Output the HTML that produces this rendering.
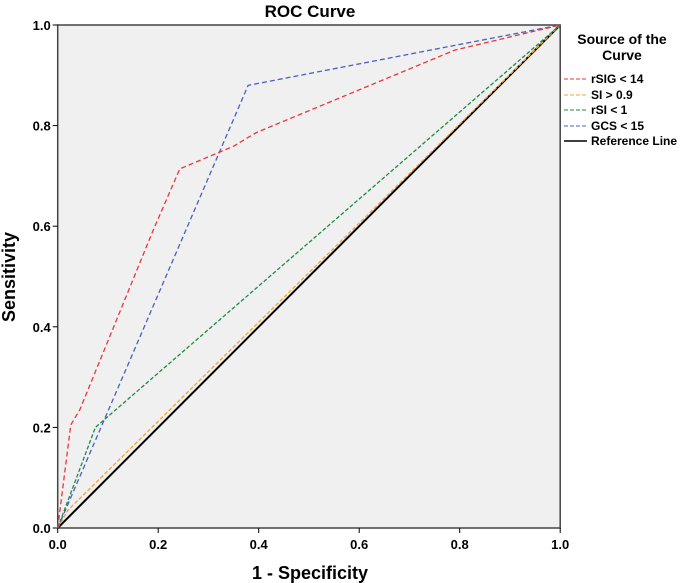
<!DOCTYPE html>
<html><head><meta charset="utf-8"><style>
body{margin:0;background:#fff;}
svg{display:block;font-family:"Liberation Sans",Arial,sans-serif;}
</style></head><body>
<svg id="chart" width="685" height="583" viewBox="0 0 685 583">
<text x="310" y="17" text-anchor="middle" font-size="17" font-weight="bold">ROC Curve</text>
<rect x="57.7" y="25" width="502.5" height="503" fill="#f0f0f0" stroke="#444" stroke-width="1.5"/>
<g id="axes"></g>
<g id="series"></g>
<text x="310" y="579" text-anchor="middle" font-size="18" font-weight="bold">1 - Specificity</text>
<text transform="translate(15,277) rotate(-90)" text-anchor="middle" font-size="18" font-weight="bold">Sensitivity</text>
<g font-size="12" font-weight="bold">
<text x="622" y="44" text-anchor="middle" font-size="14">Source of the</text>
<text x="622" y="60" text-anchor="middle" font-size="14">Curve</text>
<g><line x1="564" y1="79" x2="587" y2="79" stroke="#e8363b" stroke-dasharray="4,2"/><text x="591" y="83">rSIG &lt; 14</text></g>
<g><line x1="564" y1="95" x2="587" y2="95" stroke="#f5a22e" stroke-dasharray="4,2"/><text x="591" y="99">SI &gt; 0.9</text></g>
<g><line x1="564" y1="110" x2="587" y2="110" stroke="#1e8a47" stroke-dasharray="4,2"/><text x="591" y="114">rSI &lt; 1</text></g>
<g><line x1="564" y1="126" x2="587" y2="126" stroke="#4a5fc0" stroke-dasharray="4,2"/><text x="591" y="130">GCS &lt; 15</text></g>
<g><line x1="564" y1="141" x2="587" y2="141" stroke="#000" stroke-width="1.5"/><text x="591" y="145">Reference Line</text></g>
</g>
</svg>
<script>
const xTicks=[0,0.2,0.4,0.6,0.8,1.0];
const yTicks=[0,0.2,0.4,0.6,0.8,1.0];
const rsigX=[0,0.026,0.044,0.19,0.243,0.35,0.395,0.79,1];
const rsigY=[0,0.205,0.235,0.592,0.714,0.759,0.786,0.95,1];
const siX=[0,0.02,1];
const siY=[0,0.035,1];
const rsiX=[0,0.075,1];
const rsiY=[0,0.2,1];
const gcsX=[0,0.379,1];
const gcsY=[0,0.88,1];
const refX=[0,1];
const refY=[0,1];
const L=57.7,T=25,W=502.5,H=503;
const sx=v=>L+v*W, sy=v=>T+H-v*H;
const NS='http://www.w3.org/2000/svg';
const axes=document.getElementById('axes');
xTicks.forEach(t=>{
 const l=document.createElementNS(NS,'line');
 l.setAttribute('x1',sx(t));l.setAttribute('x2',sx(t));l.setAttribute('y1',T+H);l.setAttribute('y2',T+H+5);l.setAttribute('stroke','#000');
 
 
 axes.appendChild(l);
 const tx=document.createElementNS(NS,'text');
 tx.setAttribute('x',sx(t));tx.setAttribute('y',T+H+21);tx.setAttribute('text-anchor','middle');tx.setAttribute('font-size','13');tx.setAttribute('font-weight','bold');
 tx.textContent=t.toFixed(1);
 
 
 axes.appendChild(tx);
});
yTicks.forEach(t=>{
 const l=document.createElementNS(NS,'line');
 l.setAttribute('x1',L-5);l.setAttribute('x2',L);l.setAttribute('y1',sy(t));l.setAttribute('y2',sy(t));l.setAttribute('stroke','#000');
 
 
 axes.appendChild(l);
 const tx=document.createElementNS(NS,'text');
 tx.setAttribute('x',L-7);tx.setAttribute('y',sy(t)+5);tx.setAttribute('text-anchor','end');tx.setAttribute('font-size','13');tx.setAttribute('font-weight','bold');
 tx.textContent=t.toFixed(1);
 
 
 axes.appendChild(tx);
});
const ser=document.getElementById('series');
function draw(xs,ys,color,dash,w,name){
 const p=document.createElementNS(NS,'polyline');
 p.setAttribute('points',xs.map((x,i)=>sx(x)+','+sy(ys[i])).join(' '));
 p.setAttribute('fill','none');p.setAttribute('stroke',color);p.setAttribute('stroke-width',w);
 if(dash)p.setAttribute('stroke-dasharray',dash);
 
 
 ser.appendChild(p);
}
draw(refX,refY,'#000',null,2,'reference-line');
draw(siX,siY,'#f5a22e','4,2',1.3,'si-curve');
draw(rsiX,rsiY,'#1e8a47','4,2',1.3,'rsi-curve');
draw(gcsX,gcsY,'#4a5fc0','5,3',1.3,'gcs-curve');
draw(rsigX,rsigY,'#e8363b','5,3',1.3,'rsig-curve');
</script>
</body></html>
